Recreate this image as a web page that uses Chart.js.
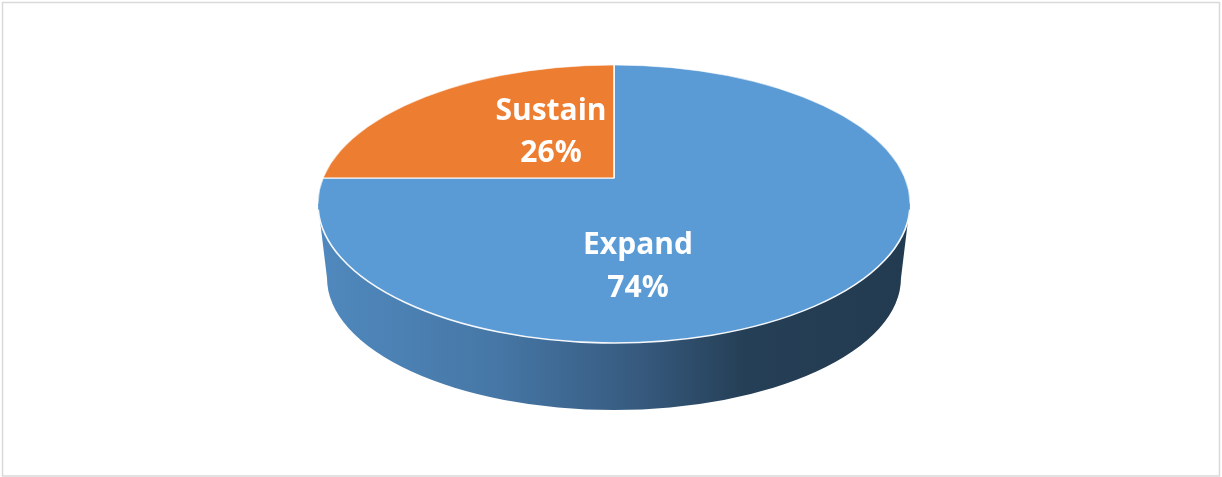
<!DOCTYPE html>
<html><head><meta charset="utf-8">
<script src="https://cdn.jsdelivr.net/npm/chart.js@4/dist/chart.umd.min.js"></script>
<style>html,body{margin:0;padding:0;background:#fff;}canvas{display:block}</style>
</head><body>
<canvas id="c" width="1222" height="477"></canvas>
<script>
// ---- data ----
const categories = ['Expand', 'Sustain'];
const shares = [74, 26];

// ---- style ----
const sliceColors = ['#5b9bd5', '#ed7d31'];
const PIE = { cx: 614, cy: 178 };                   // apex of the slices on screen
const TOP = { cx: 614, cy: 204, rx: 296, ry: 139 }; // visible top face
const BASE = { cx: 614, cy: 278, rx: 287, ry: 132 }; // bottom rim of the side wall
const SPREAD = { rx: 400, ry: 230 };                // projected size of the library's pie
const labelOffsets = [ { dx: 24, b1: 76, b2: 119 }, { dx: -63, b1: -58, b2: -16 } ];
const labelFont = '700 30px "Open Sans", "Noto Sans", sans-serif';

const pie3d = {
  id: 'pie3d',
  beforeDraw(chart) {
    const ctx = chart.ctx;
    ctx.save();
    ctx.fillStyle = '#fff';
    ctx.fillRect(0, 0, chart.width, chart.height);
    ctx.strokeStyle = '#d9d9d9';
    ctx.lineWidth = 1.5;
    ctx.strokeRect(2.5, 2.5, chart.width - 5, chart.height - 3.5);
    ctx.restore();
  },
  beforeDatasetsDraw(chart) {
    const ctx = chart.ctx;
    // side wall
    ctx.save();
    const g = ctx.createLinearGradient(TOP.cx - TOP.rx, 0, TOP.cx + TOP.rx, 0);
    g.addColorStop(0, '#5089be');
    g.addColorStop(0.3, '#4677a6');
    g.addColorStop(0.55, '#36597d');
    g.addColorStop(0.72, '#253f56');
    g.addColorStop(1, '#233b50');
    ctx.fillStyle = g;
    ctx.beginPath();
    ctx.ellipse(TOP.cx, TOP.cy, TOP.rx, TOP.ry, 0, 0, Math.PI, false);
    ctx.lineTo(BASE.cx - BASE.rx, BASE.cy);
    ctx.ellipse(BASE.cx, BASE.cy, BASE.rx, BASE.ry, 0, Math.PI, 0, true);
    ctx.closePath();
    ctx.fill();
    ctx.restore();

    // projection of the library's pie onto the top face:
    // the last slice's end edge maps straight up, its start edge straight left
    const meta = chart.getDatasetMeta(0);
    const first = meta.data[0];
    const last = meta.data[meta.data.length - 1];
    const r = first.outerRadius;
    const sx = SPREAD.rx / r, sy = SPREAD.ry / r;
    const u1 = [Math.cos(last.endAngle), Math.sin(last.endAngle)];   // -> (0,-sy)
    const u2 = [Math.cos(last.startAngle), Math.sin(last.startAngle)]; // -> (-sx,0)
    // A * [u1 u2] = [t1 t2]  =>  A = [t1 t2] * inv([u1 u2])
    const det = u1[0] * u2[1] - u2[0] * u1[1];
    const inv = [[u2[1] / det, -u2[0] / det], [-u1[1] / det, u1[0] / det]];
    const T = [[0, -sx], [-sy, 0]]; // columns t1=(0,-sy), t2=(-sx,0)
    const A = [
      [T[0][0] * inv[0][0] + T[0][1] * inv[1][0], T[0][0] * inv[0][1] + T[0][1] * inv[1][1]],
      [T[1][0] * inv[0][0] + T[1][1] * inv[1][0], T[1][0] * inv[0][1] + T[1][1] * inv[1][1]]
    ];
    ctx.save();
    ctx.beginPath();
    ctx.ellipse(TOP.cx, TOP.cy, TOP.rx, TOP.ry, 0, 0, Math.PI * 2);
    ctx.clip();
    ctx.translate(PIE.cx, PIE.cy);
    ctx.transform(A[0][0], A[1][0], A[0][1], A[1][1], 0, 0);
    ctx.translate(-first.x, -first.y);
  },
  afterDatasetsDraw(chart) {
    const ctx = chart.ctx;
    ctx.restore();
    // rim highlight
    ctx.save();
    ctx.strokeStyle = 'rgba(255,255,255,0.55)';
    ctx.lineWidth = 1;
    ctx.beginPath();
    ctx.ellipse(TOP.cx, TOP.cy, TOP.rx, TOP.ry, 0, Math.PI, Math.PI * 2);
    ctx.stroke();
    ctx.strokeStyle = '#f4f7fb';
    ctx.lineWidth = 1.6;
    ctx.beginPath();
    ctx.ellipse(TOP.cx, TOP.cy, TOP.rx, TOP.ry, 0, 0.04, Math.PI - 0.04);
    ctx.stroke();
    // labels
    const data = chart.data.datasets[0].data;
    const total = data.reduce((a, b) => a + b, 0);
    ctx.fillStyle = '#fff';
    ctx.font = labelFont;
    ctx.textAlign = 'center';
    ctx.textBaseline = 'alphabetic';
    data.forEach((v, i) => {
      const o = labelOffsets[i];
      ctx.fillText(chart.data.labels[i], PIE.cx + o.dx, PIE.cy + o.b1);
      ctx.fillText(Math.round(v / total * 100) + '%', PIE.cx + o.dx, PIE.cy + o.b2);
    });
    ctx.restore();
  }
};

new Chart(document.getElementById('c'), {
  type: 'pie',
  data: {
    labels: categories,
    datasets: [{
      data: shares,
      backgroundColor: sliceColors,
      borderColor: '#ffffff',
      borderWidth: 0.9,
      clip: false
    }]
  },
  options: {
    responsive: false,
    animation: false,
    events: [],
    rotation: 0,
    layout: { padding: 0 },
    plugins: { legend: { display: false }, tooltip: { enabled: false } }
  },
  plugins: [pie3d]
});
</script>
</body></html>
